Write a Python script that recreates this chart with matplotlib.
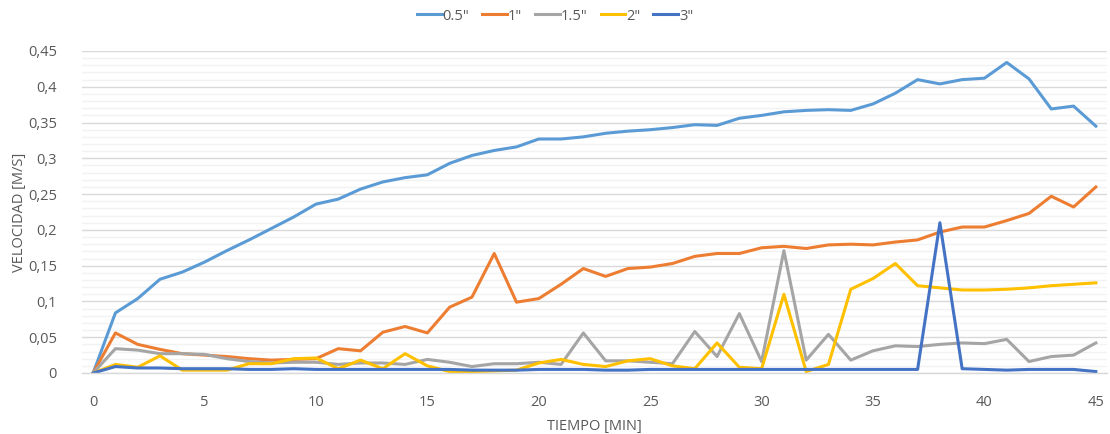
import matplotlib
matplotlib.use("Agg")
import matplotlib.pyplot as plt
from matplotlib.ticker import MultipleLocator, FuncFormatter

plt.rcParams['font.family'] = ['Open Sans', 'DejaVu Sans']

tiempo = list(range(46))

v_05 = [0, 0.084, 0.104, 0.131, 0.141, 0.155, 0.171, 0.186, 0.202, 0.218,
        0.236, 0.243, 0.257, 0.267, 0.273, 0.277, 0.293, 0.304, 0.311, 0.316,
        0.327, 0.327, 0.330, 0.335, 0.338, 0.340, 0.343, 0.347, 0.346, 0.356,
        0.360, 0.365, 0.367, 0.368, 0.367, 0.376, 0.391, 0.410, 0.404, 0.410,
        0.412, 0.434, 0.411, 0.369, 0.373, 0.345]

v_1 = [0, 0.056, 0.040, 0.033, 0.027, 0.025, 0.023, 0.020, 0.018, 0.019,
       0.020, 0.034, 0.031, 0.057, 0.065, 0.056, 0.092, 0.106, 0.167, 0.099,
       0.104, 0.124, 0.146, 0.135, 0.146, 0.148, 0.153, 0.163, 0.167, 0.167,
       0.175, 0.177, 0.174, 0.179, 0.180, 0.179, 0.183, 0.186, 0.197, 0.204,
       0.204, 0.213, 0.223, 0.247, 0.232, 0.260]

v_15 = [0, 0.034, 0.032, 0.027, 0.027, 0.026, 0.020, 0.016, 0.014, 0.015,
        0.015, 0.012, 0.014, 0.014, 0.012, 0.019, 0.015, 0.009, 0.013, 0.013,
        0.015, 0.012, 0.056, 0.017, 0.017, 0.015, 0.013, 0.058, 0.023, 0.083,
        0.016, 0.171, 0.018, 0.054, 0.018, 0.031, 0.038, 0.037, 0.040, 0.042,
        0.041, 0.047, 0.016, 0.023, 0.025, 0.042]

v_2 = [0, 0.012, 0.008, 0.024, 0.004, 0.004, 0.004, 0.013, 0.013, 0.020,
       0.021, 0.006, 0.018, 0.006, 0.027, 0.010, 0.002, 0.002, 0.003, 0.004,
       0.014, 0.019, 0.012, 0.009, 0.017, 0.020, 0.010, 0.006, 0.042, 0.008,
       0.006, 0.110, 0.002, 0.012, 0.117, 0.132, 0.153, 0.122, 0.119, 0.116,
       0.116, 0.117, 0.119, 0.122, 0.124, 0.126]

v_3 = [0, 0.009, 0.007, 0.007, 0.006, 0.006, 0.006, 0.005, 0.005, 0.006,
       0.005, 0.005, 0.005, 0.005, 0.005, 0.005, 0.005, 0.004, 0.004, 0.004,
       0.005, 0.005, 0.005, 0.004, 0.004, 0.005, 0.005, 0.005, 0.005, 0.005,
       0.005, 0.005, 0.005, 0.005, 0.005, 0.005, 0.005, 0.005, 0.210, 0.006,
       0.005, 0.004, 0.005, 0.005, 0.005, 0.002]

series = [('0.5"', v_05, '#5B9BD5'),
          ('1"', v_1, '#ED7D31'),
          ('1.5"', v_15, '#A5A5A5'),
          ('2"', v_2, '#FFC000'),
          ('3"', v_3, '#4472C4')]

fig = plt.figure(figsize=(11.1, 4.34), dpi=100)
ax = fig.add_axes([82/1110, 61/434, 1025/1110, 322/434])

for name, vals, col in series:
    ax.plot(tiempo, vals, color=col, lw=2.2, label=name, solid_joinstyle='round')

ax.set_xlim(-0.5, 45.5)
ax.set_ylim(0, 0.45)
ax.xaxis.set_major_locator(MultipleLocator(5))
ax.yaxis.set_major_locator(MultipleLocator(0.05))
ax.yaxis.set_minor_locator(MultipleLocator(0.01))

def fmt(v, pos):
    s = ('%.2f' % v).rstrip('0').rstrip('.')
    return s.replace('.', ',')
ax.yaxis.set_major_formatter(FuncFormatter(fmt))

ax.grid(which='major', axis='y', color='#D9D9D9', lw=1.0, zorder=0)
ax.grid(which='minor', axis='y', color='#F2F2F2', lw=1.0, zorder=0)
ax.set_axisbelow(True)
for s in ['top', 'right', 'left']:
    ax.spines[s].set_visible(False)
ax.spines['bottom'].set_color('#D9D9D9')
ax.spines['bottom'].set_linewidth(1.0)

ax.tick_params(axis='both', which='both', length=0, colors='#595959', labelsize=10.5)
ax.tick_params(axis='y', pad=18)
ax.tick_params(axis='x', pad=16)

ax.set_xlabel('TIEMPO [MIN]', color='#595959', fontsize=10.5, labelpad=6)
ax.set_ylabel('VELOCIDAD [M/S]', color='#595959', fontsize=10.5, labelpad=1)

leg = fig.legend(loc='center', bbox_to_anchor=(0.5, 1 - 16/434), ncol=5,
                 frameon=False, fontsize=10.5, handlelength=1.7,
                 handletextpad=0.05, columnspacing=0.9)
for t in leg.get_texts():
    t.set_color('#595959')

fig.savefig('out.png', dpi=100)
